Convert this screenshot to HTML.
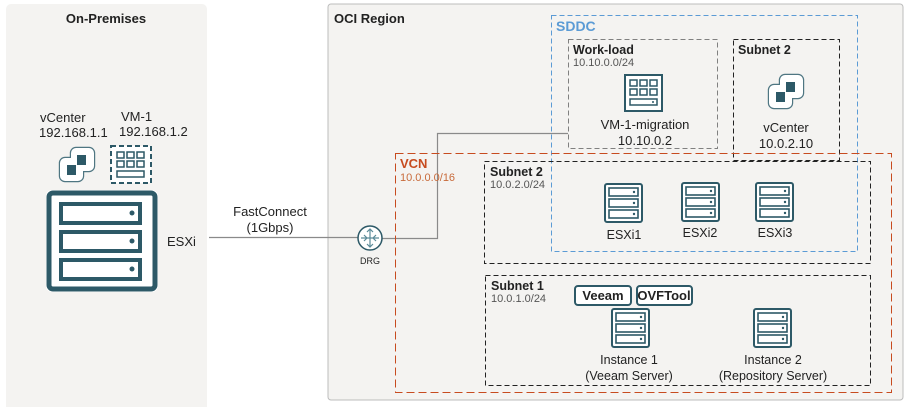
<!DOCTYPE html>
<html><head><meta charset="utf-8"><style>
html,body{margin:0;padding:0;background:#fff;}
svg{display:block;font-family:"Liberation Sans",sans-serif;}
</style></head><body>
<svg width="905" height="407" viewBox="0 0 905 407" xmlns="http://www.w3.org/2000/svg">
<defs>
<g id="srv">
<rect x="1" y="1" width="37" height="38" rx="2" fill="#fff" stroke="#2d5967" stroke-width="2"/>
<rect x="5" y="5" width="29" height="8" fill="#fff" stroke="#2d5967" stroke-width="1.6"/>
<rect x="5" y="16" width="29" height="8" fill="#fff" stroke="#2d5967" stroke-width="1.6"/>
<rect x="5" y="27" width="29" height="8" fill="#fff" stroke="#2d5967" stroke-width="1.6"/>
<circle cx="30" cy="9" r="1.2" fill="#2d5967"/><circle cx="30" cy="20" r="1.2" fill="#2d5967"/><circle cx="30" cy="31" r="1.2" fill="#2d5967"/>
</g>
<g id="vc">
<rect x="13" y="2" width="23" height="23" rx="5" fill="none" stroke="#4f7682" stroke-width="2.4"/>
<rect x="2" y="12" width="23" height="23" rx="5" fill="none" stroke="#4f7682" stroke-width="2.4"/>
<rect x="13" y="2" width="23" height="23" rx="5" fill="#fff"/>
<rect x="2" y="12" width="23" height="23" rx="5" fill="#fff"/>
<rect x="9" y="19" width="9" height="10" fill="#2d5967"/>
<rect x="19" y="9" width="9" height="10" fill="#2d5967"/>
</g>
<g id="vm">
<rect x="1" y="1" width="37" height="36" fill="#fff" stroke="#2d5967" stroke-width="2"/>
<g fill="#fff" stroke="#2d5967" stroke-width="1.5">
<rect x="6" y="6" width="7" height="6"/><rect x="16" y="6" width="7" height="6"/><rect x="26" y="6" width="7" height="6"/>
<rect x="6" y="15" width="7" height="6"/><rect x="16" y="15" width="7" height="6"/><rect x="26" y="15" width="7" height="6"/>
<rect x="6" y="25" width="27" height="6"/></g>
<circle cx="29" cy="28" r="1" fill="#2d5967"/>
</g>
</defs>
<rect x="6" y="4" width="201" height="410" rx="5" fill="#f4f3f1"/>
<rect x="328" y="4" width="575" height="396" rx="3" fill="#f4f3f1" stroke="#bcbcbc" stroke-width="1"/>
<text x="106" y="23" text-anchor="middle" font-size="13" font-weight="bold" fill="#222">On-Premises</text>
<text x="334" y="23" font-size="13" font-weight="bold" fill="#222">OCI Region</text>
<text x="40" y="122" font-size="13" fill="#222">vCenter</text>
<text x="39" y="137" font-size="13" fill="#222">192.168.1.1</text>
<text x="121" y="121" font-size="13" fill="#222">VM-1</text>
<text x="119" y="136" font-size="13" fill="#222">192.168.1.2</text>
<g transform="translate(58,146)"><use href="#vc"/></g>
<rect x="111" y="146" width="40" height="37" fill="#fff" stroke="#2d5967" stroke-width="2" stroke-dasharray="5,3"/>
<g fill="#fff" stroke="#2d5967" stroke-width="1.5">
<rect x="117" y="152" width="7" height="6"/><rect x="127" y="152" width="7" height="6"/><rect x="137" y="152" width="7" height="6"/>
<rect x="117" y="161" width="7" height="6"/><rect x="127" y="161" width="7" height="6"/><rect x="137" y="161" width="7" height="6"/>
<rect x="117" y="171" width="27" height="6"/></g>
<rect x="46" y="190" width="112" height="102" rx="6" fill="#fff"/>
<rect x="49" y="193" width="106" height="96" rx="4" fill="#fff" stroke="#2d5967" stroke-width="5"/>
<g fill="#fff" stroke="#2d5967" stroke-width="4">
<rect x="61" y="204" width="79" height="19"/><rect x="61" y="232" width="79" height="19"/><rect x="61" y="260" width="79" height="19"/></g>
<circle cx="132" cy="213" r="2.5" fill="#2d5967"/><circle cx="132" cy="241" r="2.5" fill="#2d5967"/><circle cx="132" cy="269" r="2.5" fill="#2d5967"/>
<text x="167" y="246" font-size="13" fill="#222">ESXi</text>
<text x="270" y="216" text-anchor="middle" font-size="13" fill="#222">FastConnect</text>
<text x="270" y="232" text-anchor="middle" font-size="13" fill="#222">(1Gbps)</text>
<path d="M209,237.5 H358 M382,238.5 H437.5 V133.5 H568" fill="none" stroke="#8a8a8a" stroke-width="1.2"/>
<rect x="551.5" y="15.5" width="306" height="236" fill="none" stroke="#5b9bd5" stroke-width="1" stroke-dasharray="5,3"/>
<text x="556" y="31" font-size="14" font-weight="bold" fill="#5b9bd5">SDDC</text>
<rect x="568.5" y="39.5" width="149" height="109" fill="none" stroke="#808080" stroke-width="1" stroke-dasharray="5,3"/>
<text x="573" y="54" font-size="12.5" font-weight="bold" fill="#222">Work-load</text>
<text x="573" y="66" font-size="11" fill="#555">10.10.0.0/24</text>
<g transform="translate(624,74)"><use href="#vm"/></g>
<text x="645" y="129" text-anchor="middle" font-size="13" fill="#222">VM-1-migration</text>
<text x="645" y="145" text-anchor="middle" font-size="13" fill="#222">10.10.0.2</text>
<rect x="733.5" y="39.5" width="106" height="121" fill="none" stroke="#222" stroke-width="1" stroke-dasharray="5,3"/>
<text x="738" y="54" font-size="12.5" font-weight="bold" fill="#222">Subnet 2</text>
<g transform="translate(767,73)"><use href="#vc"/></g>
<text x="786" y="132" text-anchor="middle" font-size="13" fill="#222">vCenter</text>
<text x="786" y="148" text-anchor="middle" font-size="13" fill="#222">10.0.2.10</text>
<rect x="395.5" y="153.5" width="496" height="239" fill="none" stroke="#c74b1f" stroke-width="1" stroke-dasharray="8,4"/>
<text x="400" y="168" font-size="13" font-weight="bold" fill="#c74b1f">VCN</text>
<text x="400" y="181" font-size="11" fill="#c86a3a">10.0.0.0/16</text>
<rect x="484.5" y="161.5" width="386" height="102" fill="none" stroke="#222" stroke-width="1" stroke-dasharray="5,3"/>
<text x="490" y="176" font-size="12.5" font-weight="bold" fill="#222">Subnet 2</text>
<text x="490" y="188" font-size="11" fill="#555">10.0.2.0/24</text>
<g transform="translate(604,183)"><use href="#srv"/></g>
<g transform="translate(681,182)"><use href="#srv"/></g>
<g transform="translate(755,182)"><use href="#srv"/></g>
<text x="624" y="239" text-anchor="middle" font-size="12.5" fill="#222">ESXi1</text>
<text x="700" y="237" text-anchor="middle" font-size="12.5" fill="#222">ESXi2</text>
<text x="775" y="237" text-anchor="middle" font-size="12.5" fill="#222">ESXi3</text>
<rect x="485.5" y="275.5" width="385" height="110" fill="none" stroke="#222" stroke-width="1" stroke-dasharray="5,3"/>
<text x="491" y="290" font-size="12.5" font-weight="bold" fill="#222">Subnet 1</text>
<text x="491" y="302" font-size="11" fill="#555">10.0.1.0/24</text>
<rect x="575" y="286" width="56" height="19" rx="3" fill="#fff" stroke="#2d5967" stroke-width="2"/>
<text x="603" y="300" text-anchor="middle" font-size="13" font-weight="bold" fill="#222">Veeam</text>
<rect x="637" y="286" width="55" height="19" rx="3" fill="#fff" stroke="#2d5967" stroke-width="2"/>
<text x="664" y="300" text-anchor="middle" font-size="13" font-weight="bold" fill="#222">OVFTool</text>
<g transform="translate(611,308)"><use href="#srv"/></g>
<g transform="translate(753,308)"><use href="#srv"/></g>
<text x="629" y="364" text-anchor="middle" font-size="12.5" fill="#222">Instance 1</text>
<text x="629" y="380" text-anchor="middle" font-size="12.5" fill="#222">(Veeam Server)</text>
<text x="773" y="364" text-anchor="middle" font-size="12.5" fill="#222">Instance 2</text>
<text x="773" y="380" text-anchor="middle" font-size="12.5" fill="#222">(Repository Server)</text>
<circle cx="370" cy="238" r="12" fill="#fff" stroke="#2d5967" stroke-width="1.5"/>
<path d="M370,229 V247 M361,238 H379 M367,232 l3,-3 3,3 M367,244 l3,3 3,-3 M364,235 l3,3 -3,3 M376,235 l-3,3 3,3" fill="none" stroke="#5a8a98" stroke-width="1.2"/>
<text x="370" y="264" text-anchor="middle" font-size="9" fill="#222">DRG</text>
</svg>
</body></html>
